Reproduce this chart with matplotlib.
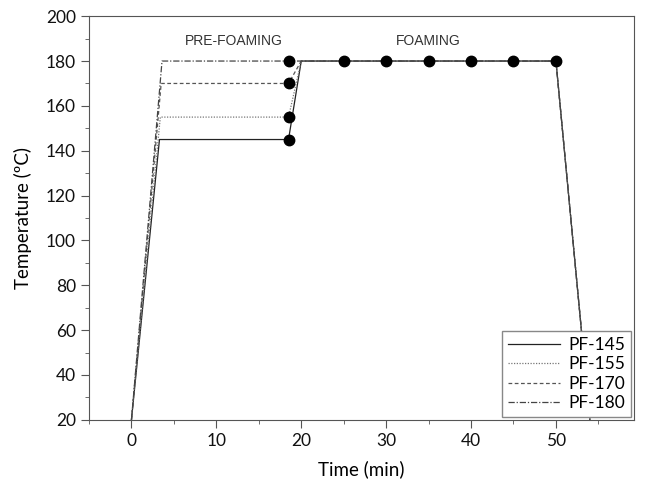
import matplotlib
matplotlib.use("Agg")
import matplotlib.pyplot as plt
from matplotlib.ticker import MultipleLocator

# temperature programmes (time in min, temperature in ºC)
labels = ["PF-145", "PF-155", "PF-170", "PF-180"]
pre_temps = [145, 155, 170, 180]
ramp_end = [3.3, 3.4, 3.5, 3.6]
t_hold_end = 18.5
t_foam_start = 20
t_foam_end = 50
t_cool_end = 54
t_start, temp_start = 0, 20
foam_temp = 180

# sampling points (black dots)
dot_t_pre = [18.5, 18.5, 18.5, 18.5]
dot_T_pre = [145, 155, 170, 180]
dot_t_foam = [25, 30, 35, 40, 45, 50]
dot_T_foam = [180, 180, 180, 180, 180, 180]

styles = ["-", (0, (1, 1.2)), (0, (3, 2)), (0, (5, 1.5, 1, 1.5))]
colors = ["#222222", "#777777", "#555555", "#444444"]
FONT = "Lato"

fig = plt.figure(figsize=(6.45, 4.91), dpi=100)
ax = fig.add_axes([0.138, 0.145, 0.845, 0.822])

for lab, T, r, ls, c in zip(labels, pre_temps, ramp_end, styles, colors):
    t = [t_start, r, t_hold_end, t_foam_start, t_foam_end, t_cool_end]
    y = [temp_start, T, T, foam_temp, foam_temp, temp_start]
    ax.plot(t, y, linestyle=ls, color=c, linewidth=0.9, label=lab)

ax.plot(dot_t_pre, dot_T_pre, "o", color="black", markersize=7.5, zorder=5)
ax.plot(dot_t_foam, dot_T_foam, "o", color="black", markersize=7.5, zorder=5)

ax.text(12, 186, "PRE-FOAMING", ha="center", va="bottom",
        family="Liberation Sans", fontsize=10, color="#333333")
ax.text(35, 186, "FOAMING", ha="center", va="bottom",
        family="Liberation Sans", fontsize=10, color="#333333")

ax.set_xlim(-5, 59.2)
ax.set_ylim(20, 200)
ax.xaxis.set_major_locator(MultipleLocator(10))
ax.xaxis.set_minor_locator(MultipleLocator(5))
ax.yaxis.set_major_locator(MultipleLocator(20))
ax.yaxis.set_minor_locator(MultipleLocator(10))
ax.tick_params(which="both", direction="out", colors="#555555",
               labelcolor="#111111", labelsize=12.5)
ax.tick_params(which="major", length=6)
ax.tick_params(which="minor", length=3)
for s in ax.spines.values():
    s.set_color("#555555")
for lbl in ax.get_xticklabels() + ax.get_yticklabels():
    lbl.set_family(FONT)

ax.set_xlabel("Time (min)", family=FONT, fontsize=13.5, labelpad=8)
ax.set_ylabel("Temperature (ºC)", family=FONT, fontsize=13.5, labelpad=10)

leg = ax.legend(loc="lower right", handlelength=3.0,
                prop={"family": FONT, "size": 12.5},
                fancybox=False, framealpha=1, edgecolor="#888888",
                borderaxespad=0.15, labelspacing=0.2, handletextpad=0.5,
                borderpad=0.35)

fig.savefig("out.png", dpi=100)
